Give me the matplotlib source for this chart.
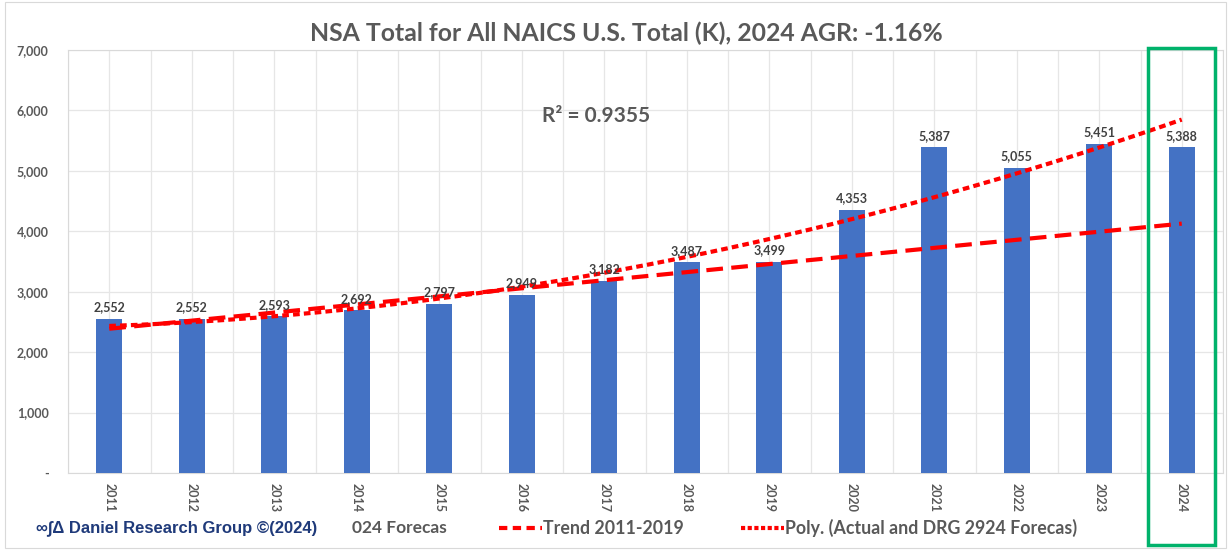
import numpy as np
import matplotlib.pyplot as plt
from matplotlib.patches import Rectangle
from matplotlib.lines import Line2D

plt.rcParams['font.family'] = ['Lato', 'DejaVu Sans']

years = [str(y) for y in range(2011, 2025)]
values = [2552, 2552, 2593, 2692, 2797, 2949, 3182, 3487, 3499, 4353, 5387, 5055, 5451, 5388]
yticks = [0, 1000, 2000, 3000, 4000, 5000, 6000, 7000]
ytick_labels = ['-', '1,000', '2,000', '3,000', '4,000', '5,000', '6,000', '7,000']

gray = '#595959'
x = np.arange(len(years))
y = np.array(values, dtype=float)

# trend lines fitted on the data (Excel style)
lin = np.polyfit(x[:9], y[:9], 1)
poly = np.polyfit(x, y, 2)
xs = np.linspace(0, len(years) - 1, 200)

fig = plt.figure(figsize=(12.31, 5.5), dpi=100)
ax = fig.add_axes([68 / 1231, 77 / 550, 1155 / 1231, 423 / 550])

ax.bar(x, values, width=0.31, color='#4472C4', zorder=3)
for xi, v in zip(x, values):
    ax.text(xi, v + 90, f'{v:,}', ha='center', va='bottom', fontsize=9,
            fontweight='bold', color='#404040', zorder=5)

ax.plot(xs, np.polyval(lin, xs), color='red', lw=3, ls=(0, (4, 2)), zorder=4)
ax.plot(xs, np.polyval(poly, xs), color='red', lw=3, ls=(0, (1.6, 1)), zorder=4)

ax.set_xlim(-0.5, len(years) - 0.5)
ax.set_ylim(0, 7000)
ax.set_yticks(yticks)
ax.set_yticklabels(ytick_labels)
ax.set_xticks(x)
ax.set_xticklabels(years, rotation=-90)
ax.set_xticks(np.arange(-0.5, len(years), 1), minor=True)
ax.tick_params(axis='both', length=0, labelcolor=gray, labelsize=9, pad=7)
ax.tick_params(axis='y', pad=14)
ax.tick_params(axis='x', which='minor', length=0)
for lab in ax.get_xticklabels() + ax.get_yticklabels():
    lab.set_fontweight('bold')
ax.grid(True, which='both', color='#E6E6E6', lw=0.9, zorder=0)
for s in ax.spines.values():
    s.set_color('#D9D9D9')

ax.text(0.457, 0.83, 'R² = 0.9355', transform=ax.transAxes,
        ha='center', fontsize=15, fontweight='bold', color=gray)

fig.text(0.5085, 0.925, 'NSA Total for All NAICS U.S. Total (K), 2024 AGR: -1.16%',
         ha='center', fontsize=17.8, fontweight='bold', color=gray)

# bottom legend row (first entry is partly hidden by the watermark)
fig.text(352 / 1231, 0.04, '024 Forecas', ha='left', va='center', fontsize=12.5,
         fontweight='bold', color=gray)
handles = [Line2D([], [], color='red', lw=3, ls=(0, (2, 1.3))),
           Line2D([], [], color='red', lw=3, ls=(0, (1, 0.6)))]
labels = ['Trend 2011-2019', 'Poly. (Actual and DRG 2924 Forecas)']
leg = fig.legend(handles, labels, loc='center left', bbox_to_anchor=(490 / 1231, 0.04), ncol=2,
                 frameon=False, handlelength=2.4, handletextpad=0.1, columnspacing=3.2,
                 borderpad=0, prop={'size': 12.8, 'weight': 'bold'})
for t in leg.get_texts():
    t.set_color(gray)

fig.text(36 / 1231, 0.04, '\u221e\u222b\u0394 Daniel Research Group \u00a9(2024)', ha='left', va='center',
         fontsize=12, fontweight='bold', color='#1F3A7A', family=['Liberation Sans', 'DejaVu Sans'])

fig.patches.append(Rectangle((1148 / 1231, 5 / 550), 67 / 1231, 497 / 550, transform=fig.transFigure,
                             fill=False, edgecolor='#00B26B', lw=2.5, zorder=20))
fig.patches.append(Rectangle((0.004, 0.003), 0.992, 0.994, transform=fig.transFigure,
                             fill=False, edgecolor='#D9D9D9', lw=0.8))

fig.savefig('out.png', dpi=100)
